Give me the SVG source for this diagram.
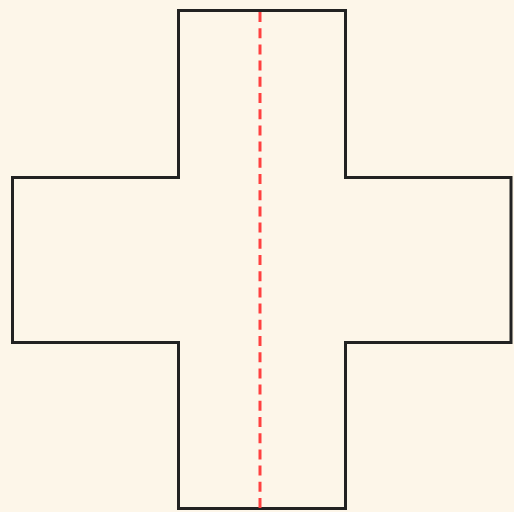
<svg xmlns="http://www.w3.org/2000/svg" width="514" height="512" viewBox="0 0 514 512">
<style>
.cross{fill:none;stroke:#222;stroke-width:3;stroke-linejoin:miter}
.axis{stroke:#ff4040;stroke-width:3;stroke-dasharray:10,6.2}
</style>
<rect width="514" height="512" fill="#fdf6e9"/>
<g id="cross">
<path class="cross" d="M178.5,10.5 H345.5 V177.5 H511 V342.5 H345.5 V508.5 H178.5 V342.5 H12.5 V177.5 H178.5 Z"/>
</g>
<g id="connectors">
<line class="axis" x1="260" y1="12" x2="260" y2="508"/>
</g>
</svg>
